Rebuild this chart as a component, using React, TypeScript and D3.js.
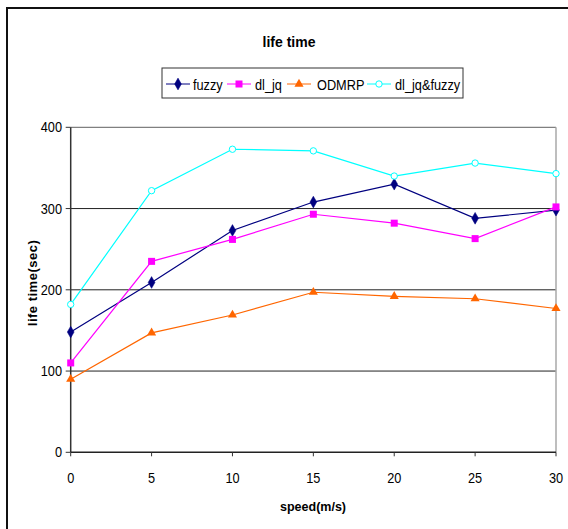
import React from "react";
import * as d3 from "d3";

const speeds = [0, 5, 10, 15, 20, 25, 30];
const fuzzy = [148, 209, 273, 308, 330, 288, 298];
const dlJq = [110, 235, 262, 293, 282, 263, 302];
const odmrp = [90, 147, 169, 197, 192, 189, 177];
const dlJqFuzzy = [182, 322, 373, 371, 340, 356, 343];
const yTicks = [0, 100, 200, 300, 400];
const xTicks = [0, 5, 10, 15, 20, 25, 30];
const seriesNames = ["fuzzy", "dl_jq", "ODMRP", "dl_jq&fuzzy"];
const seriesColors = ["#000080", "#FF00FF", "#FF6600", "#00FFFF"];
const markerTypes = ["diamond", "square", "triangle", "circle"];

const W = 568;
const H = 529;
const font = "'Liberation Sans', Arial, sans-serif";
const SX = 0.85;

function Marker({ type, x, y, color }: { type: string; x: number; y: number; color: string }) {
  if (type === "diamond") {
    const s = d3.symbol(d3.symbolDiamond, 40)();
    return <path d={s || ""} transform={`translate(${x},${y})`} fill={color} stroke={color} strokeWidth={0.5} />;
  }
  if (type === "square") {
    return <rect x={x - 3.5} y={y - 3.5} width={7} height={7} fill={color} />;
  }
  if (type === "triangle") {
    const s = d3.symbol(d3.symbolTriangle, 36)();
    return <path d={s || ""} transform={`translate(${x},${y})`} fill={color} />;
  }
  return <circle cx={x} cy={y} r={3.2} fill="#fff" stroke={color} strokeWidth={1} />;
}

function NText({ x, y, anchor, children }: { x: number; y: number; anchor: string; children: React.ReactNode }) {
  return (
    <text
      transform={`translate(${x},${y}) scale(${SX},1)`}
      textAnchor={anchor}
      fontSize={15}
      fill="#000"
    >
      {children}
    </text>
  );
}

export default function App() {
  const x = d3.scaleLinear().domain([0, 30]).range([70.7, 556]);
  const y = d3.scaleLinear().domain([0, 400]).range([452.3, 127.3]);
  const data = [fuzzy, dlJq, odmrp, dlJqFuzzy];
  const line = d3
    .line<number>()
    .x((_, i) => x(speeds[i]))
    .y((d) => y(d));

  const legendItems = [
    { lx: 166, tx: 193 },
    { lx: 227, tx: 255 },
    { lx: 287, tx: 317 },
    { lx: 367, tx: 395 },
  ];

  return (
    <svg
      width={W}
      height={H}
      style={{ position: "absolute", left: 0, top: 0, background: "#fff" }}
      fontFamily={font}
    >
      <rect x={0} y={0} width={W} height={H} fill="#fff" />
      {/* outer frame */}
      <rect x={7} y={8} width={W + 20} height={H + 20} fill="none" stroke="#111" strokeWidth={2} />
      {/* title */}
      <text x={289} y={47} textAnchor="middle" fontSize={14} fontWeight="bold" fill="#000">
        life time
      </text>
      {/* legend */}
      <rect x={162} y={68} width={301} height={30} fill="#fff" stroke="#333" strokeWidth={1} />
      {seriesNames.map((n, i) => (
        <g key={n}>
          <line x1={legendItems[i].lx} x2={legendItems[i].lx + 24} y1={84} y2={84} stroke={seriesColors[i]} strokeWidth={1} />
          <Marker type={markerTypes[i]} x={legendItems[i].lx + 12} y={84} color={seriesColors[i]} />
          <NText x={legendItems[i].tx} y={89.5} anchor="start">
            {n}
          </NText>
        </g>
      ))}
      {/* grid */}
      {yTicks.slice(1, 4).map((t) => (
        <line key={t} x1={x(0)} x2={x(30)} y1={y(t)} y2={y(t)} stroke="#222" strokeWidth={1} />
      ))}
      <line x1={x(0)} x2={x(30)} y1={y(400)} y2={y(400)} stroke="#808080" strokeWidth={1.2} />
      <line x1={x(30)} x2={x(30)} y1={y(400)} y2={y(0)} stroke="#a8a8a8" strokeWidth={1.5} />
      {/* axes */}
      <line x1={x(0)} x2={x(0)} y1={y(400)} y2={y(0)} stroke="#333" strokeWidth={1.5} />
      <line x1={x(0)} x2={x(30)} y1={y(0)} y2={y(0)} stroke="#222" strokeWidth={1.5} />
      {yTicks.map((t) => (
        <g key={t}>
          <line x1={x(0) - 5} x2={x(0)} y1={y(t)} y2={y(t)} stroke="#333" strokeWidth={1} />
          <NText x={62} y={y(t) + 5} anchor="end">
            {t}
          </NText>
        </g>
      ))}
      {xTicks.map((t) => (
        <g key={t}>
          <line x1={x(t)} x2={x(t)} y1={y(0)} y2={y(0) + 4} stroke="#333" strokeWidth={1} />
          <NText x={x(t)} y={483} anchor="middle">
            {t}
          </NText>
        </g>
      ))}
      <text x={313} y={511} textAnchor="middle" fontSize={12.5} fontWeight="bold" fill="#000">
        speed(m/s)
      </text>
      <text
        transform={`translate(37,283) rotate(-90)`}
        textAnchor="middle"
        fontSize={13}
        fontWeight="bold"
        letterSpacing={0.5}
        fill="#000"
      >
        life time(sec)
      </text>
      {/* series */}
      {data.map((s, i) => (
        <g key={i}>
          <path d={line(s) || ""} fill="none" stroke={seriesColors[i]} strokeWidth={1.2} />
          {s.map((v, j) => (
            <Marker key={j} type={markerTypes[i]} x={x(speeds[j])} y={y(v)} color={seriesColors[i]} />
          ))}
        </g>
      ))}
    </svg>
  );
}
